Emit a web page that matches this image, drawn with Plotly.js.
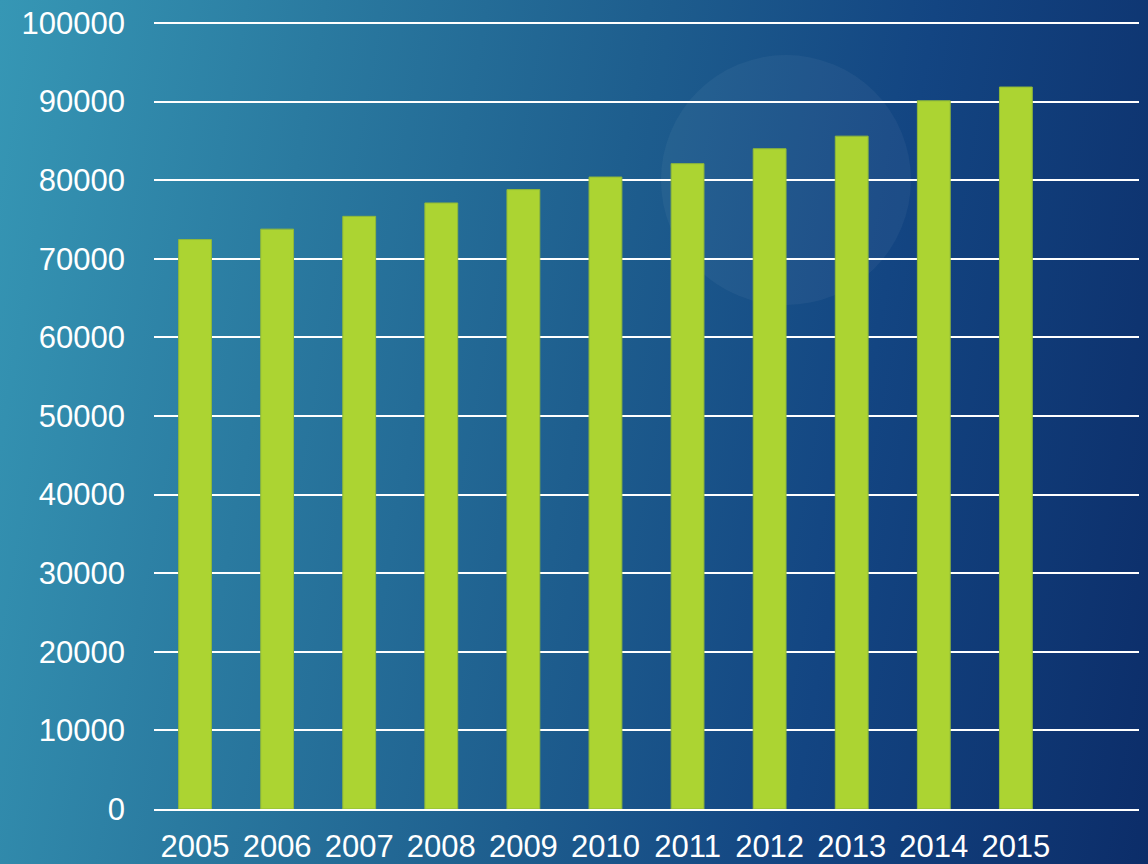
<!DOCTYPE html>
<html>
<head>
<meta charset="utf-8">
<script src="https://cdn.plot.ly/plotly-3.0.1.min.js"></script>
<style>
  html, body { margin:0; padding:0; width:1148px; height:864px; overflow:hidden; }
  body {
    background: linear-gradient(100deg, #3697b5 0%, #2a7aa0 25%, #1e5e8e 50%, #134582 72%, #0c2d69 100%);
    position: relative;
  }
  #glow {
    position:absolute; left:661px; top:55px; width:250px; height:250px; border-radius:50%;
    background: rgba(255,255,255,0.045);
  }
  #chart { position:absolute; left:0; top:0; width:1148px; height:864px; }
</style>
</head>
<body>
<div id="glow"></div>
<div id="chart"></div>
<script>
const years = ['2005','2006','2007','2008','2009','2010','2011','2012','2013','2014','2015'];
const values = [72450, 73770, 75400, 77100, 78800, 80400, 82100, 84000, 85600, 90100, 91850];
const yTicks = [0,10000,20000,30000,40000,50000,60000,70000,80000,90000,100000];

const trace = {
  type: 'bar',
  x: years,
  y: values,
  width: 0.4,
  marker: { color: '#acd432', line: { color: '#8fb83a', width: 1 } },
  hoverinfo: 'x+y'
};

const layout = {
  width: 1148, height: 864,
  margin: { l: 154, r: 9, t: 21, b: 55 },
  paper_bgcolor: 'rgba(0,0,0,0)',
  plot_bgcolor: 'rgba(0,0,0,0)',
  font: { family: 'Liberation Sans, Arial, sans-serif', size: 31, color: '#ffffff' },
  showlegend: false,
  bargap: 0.6,
  xaxis: {
    type: 'category',
    categoryorder: 'array',
    categoryarray: years,
    range: [-0.5, 11.5],
    showgrid: false,
    zeroline: false,
    showline: true,
    linecolor: '#ffffff',
    linewidth: 2,
    ticks: '',
    ticklabelstandoff: 9,
    tickfont: { size: 31, color: '#ffffff' }
  },
  yaxis: {
    range: [0, 100250],
    tickvals: yTicks,
    ticktext: yTicks.map(String),
    showgrid: true,
    gridcolor: '#ffffff',
    gridwidth: 2,
    zeroline: false,
    showline: false,
    ticks: '',
    ticklabelstandoff: 28,
    tickfont: { size: 31, color: '#ffffff' }
  }
};

Plotly.newPlot('chart', [trace], layout, { displayModeBar: false, staticPlot: true });
</script>
</body>
</html>
